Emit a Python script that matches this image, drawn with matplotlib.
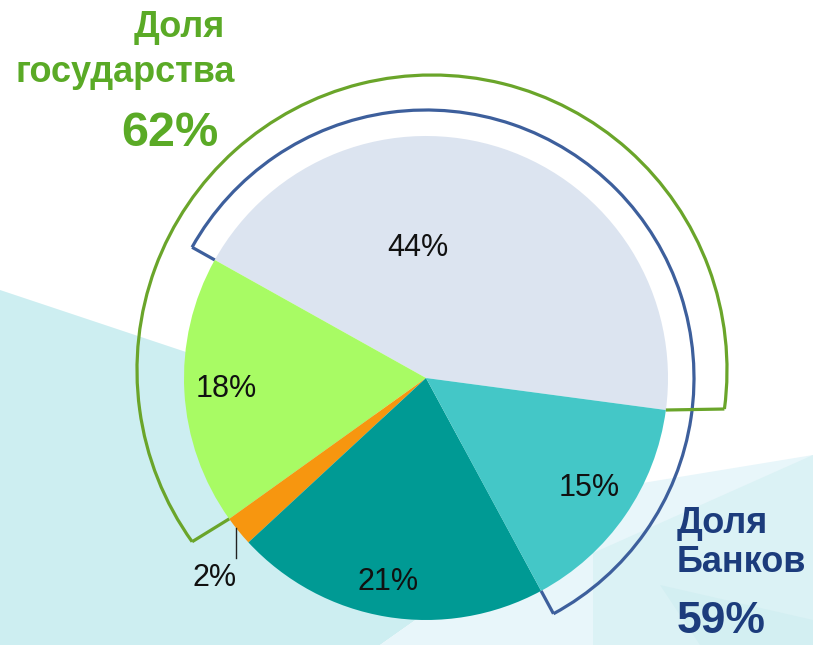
import numpy as np
import matplotlib
matplotlib.use("Agg")
import matplotlib.pyplot as plt
from matplotlib.patches import Arc, Polygon

# ---- data ----
slice_names = ["Прочие гос.", "Государство", "Прочие", "Прочие банки", "Банки"]
slice_values = [44, 18, 2, 21, 15]
slice_labels = ["44%", "18%", "2%", "21%", "15%"]
slice_colors = ["#dce4f0", "#a8fb64", "#f7960f", "#009a94", "#44c7c7"]
state_share = 62   # 44 + 18
banks_share = 59   # 44 + 15

W, H = 813, 645
fig = plt.figure(figsize=(W / 100, H / 100), dpi=100)
ax = fig.add_axes([0, 0, 1, 1])

def P(x, y):
    return (x, H - y)

# background decoration
bg = [
    ([(0, 290), (600, 490), (380, 645), (0, 645)], "#cdeef1"),
    ([(380, 645), (600, 490), (813, 455), (813, 645)], "#e8f6fa"),
    ([(593, 553), (813, 455), (813, 645), (593, 645)], "#dbf2f5"),
    ([(660, 585), (813, 620), (813, 645), (700, 645)], "#d3eff2"),
]
for pts, c in bg:
    ax.add_patch(Polygon([P(*p) for p in pts], closed=True, fc=c, ec="none", zorder=0))

cx, cy = P(426, 378)
R = 242
start = -7.6
ax.pie(slice_values, colors=slice_colors, startangle=start, counterclock=True,
       center=(cx, cy), radius=R, wedgeprops=dict(linewidth=0), frame=False)

bounds = start + np.concatenate([[0], np.cumsum(slice_values)]) * 3.6

def pt(c, r, ang):
    a = np.deg2rad(ang)
    return c[0] + r * np.cos(a), c[1] + r * np.sin(a)

# banks bracket (blue): slices 44% + 15%
blue = "#3d5f9c"
bc, br = (cx, cy), 268
b1, b2 = bounds[4] - 360, bounds[1]
ax.add_patch(Arc(bc, 2 * br, 2 * br, theta1=b1, theta2=b2, color=blue, lw=2.3, zorder=3))
for a in (b1, b2):
    p0 = pt((cx, cy), R, a); p1 = pt(bc, br, a)
    ax.plot([p0[0], p1[0]], [p0[1], p1[1]], color=blue, lw=2.3, solid_capstyle="butt", zorder=3)

# state bracket (green): slices 44% + 18%
green = "#6aa52a"
gc, gr = P(432, 370), 295
g1, g2 = bounds[0], bounds[2]
ax.add_patch(Arc(gc, 2 * gr, 2 * gr, theta1=g1, theta2=g2, color=green, lw=2.3, zorder=3))
for a in (g1, g2):
    p0 = pt((cx, cy), R, a); p1 = pt(gc, gr, a)
    ax.plot([p0[0], p1[0]], [p0[1], p1[1]], color=green, lw=2.3, solid_capstyle="butt", zorder=3)

# slice labels
label_pos = [(418, 256), (226, 397), (215, 586), (388, 590), (589, 496)]
for (x, y), t in zip(label_pos, slice_labels):
    ax.text(*P(x, y), t, fontsize=22, family="Liberation Sans", color="#111111",
            ha="center", va="baseline", zorder=4)
ax.plot(*zip(P(236, 528), P(236, 558)), color="#222222", lw=1.0, zorder=4)

# headings
tg = "#5aaa26"
ax.text(*P(179, 37), "Доля", fontsize=26, weight="bold", family="Liberation Sans",
        color=tg, ha="center", va="baseline")
ax.text(*P(125, 82), "государства", fontsize=26, weight="bold", family="Liberation Sans",
        color=tg, ha="center", va="baseline")
ax.text(*P(170, 146), f"{state_share}%", fontsize=35, weight="bold", family="Liberation Sans",
        color=tg, ha="center", va="baseline")

tb = "#1c3c7c"
ax.text(*P(677, 533), "Доля", fontsize=26, weight="bold", family="Liberation Sans",
        color=tb, ha="left", va="baseline")
ax.text(*P(677, 572), "Банков", fontsize=26, weight="bold", family="Liberation Sans",
        color=tb, ha="left", va="baseline")
ax.text(*P(677, 633), f"{banks_share}%", fontsize=32, weight="bold", family="Liberation Sans",
        color=tb, ha="left", va="baseline")

ax.set_xlim(0, W)
ax.set_ylim(0, H)
ax.set_aspect("auto")
ax.axis("off")
fig.savefig("out.png", dpi=100, facecolor="white")
